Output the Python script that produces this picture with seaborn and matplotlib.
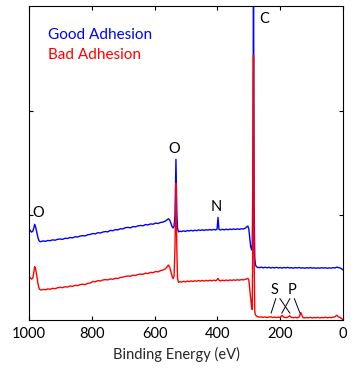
"""XPS survey spectra: good vs bad adhesion surfaces."""

import matplotlib

matplotlib.use("Agg")
import matplotlib.pyplot as plt
import pandas as pd
import seaborn as sns

# binding energy grid (eV), shared by both spectra
ENERGY = [
    1000, 996, 992, 988, 985, 982, 979, 975, 971, 967, 963, 955, 948, 940, 932,
    925, 917, 909, 901, 893, 885, 877, 869, 861, 853, 845, 837, 829, 821, 813,
    805, 797, 789, 781, 773, 765, 757, 749, 741, 733, 725, 717, 709, 701, 693,
    685, 677, 669, 661, 653, 645, 637, 629, 621, 613, 605, 597, 589, 581, 573,
    566, 561, 556, 552, 548, 544, 541, 538, 535, 533, 532, 531, 529, 527, 524,
    520, 514, 508, 502, 496, 490, 484, 478, 472, 466, 460, 454, 448, 442, 436,
    430, 424, 418, 412, 406, 401, 398, 395, 390, 384, 378, 372, 366, 360, 354,
    348, 342, 336, 330, 324, 318, 312, 307, 303, 300, 297, 294, 291, 289, 287,
    286, 285, 284, 283, 281, 279, 276, 272, 266, 260, 254, 248, 242, 236, 230,
    224, 218, 212, 206, 200, 194, 188, 182, 176, 170, 164, 158, 152, 146, 140,
    134, 128, 122, 116, 110, 104, 98, 92, 86, 80, 74, 68, 62, 56, 50,
    44, 38, 32, 26, 20, 14, 8, 4, 0,
]

GOOD = [
    0.870, 0.855, 0.840, 0.848, 0.875, 0.914, 0.890, 0.835, 0.780, 0.752, 0.748, 0.756, 0.751, 0.760, 0.758,
    0.766, 0.762, 0.771, 0.774, 0.770, 0.781, 0.779, 0.788, 0.785, 0.796, 0.793, 0.802, 0.806, 0.803, 0.815,
    0.818, 0.826, 0.823, 0.834, 0.831, 0.840, 0.845, 0.842, 0.856, 0.853, 0.864, 0.861, 0.872, 0.870, 0.882,
    0.885, 0.880, 0.893, 0.890, 0.899, 0.903, 0.900, 0.912, 0.908, 0.918, 0.915, 0.926, 0.922, 0.932, 0.936,
    0.945, 0.955, 0.967, 0.955, 0.925, 0.890, 0.880, 0.895, 1.000, 1.400, 1.535, 1.350, 1.000, 0.880, 0.842,
    0.848, 0.845, 0.852, 0.846, 0.855, 0.850, 0.857, 0.851, 0.858, 0.853, 0.861, 0.856, 0.862, 0.855, 0.863,
    0.858, 0.865, 0.859, 0.866, 0.860, 0.868, 0.980, 0.866, 0.860, 0.867, 0.861, 0.868, 0.862, 0.869, 0.864,
    0.870, 0.865, 0.871, 0.866, 0.872, 0.869, 0.876, 0.888, 0.898, 0.870, 0.780, 0.700, 0.670, 0.720, 1.300,
    2.400, 3.400, 2.200, 1.100, 0.600, 0.530, 0.510, 0.503, 0.500, 0.505, 0.498, 0.504, 0.499, 0.503, 0.497,
    0.502, 0.498, 0.503, 0.497, 0.501, 0.496, 0.502, 0.498, 0.503, 0.497, 0.500, 0.495, 0.501, 0.497, 0.502,
    0.496, 0.499, 0.494, 0.500, 0.496, 0.501, 0.495, 0.499, 0.494, 0.498, 0.495, 0.500, 0.496, 0.499, 0.494,
    0.498, 0.495, 0.500, 0.497, 0.505, 0.500, 0.496, 0.488, 0.478,
]

BAD = [
    0.420, 0.405, 0.390, 0.400, 0.450, 0.510, 0.490, 0.420, 0.340, 0.295, 0.287, 0.292, 0.289, 0.297, 0.294,
    0.302, 0.299, 0.308, 0.312, 0.309, 0.318, 0.315, 0.325, 0.322, 0.331, 0.328, 0.339, 0.342, 0.338, 0.350,
    0.353, 0.368, 0.365, 0.376, 0.373, 0.382, 0.386, 0.383, 0.392, 0.389, 0.399, 0.396, 0.406, 0.410, 0.416,
    0.420, 0.418, 0.428, 0.425, 0.435, 0.439, 0.436, 0.447, 0.444, 0.455, 0.452, 0.463, 0.460, 0.472, 0.478,
    0.488, 0.505, 0.525, 0.505, 0.460, 0.415, 0.395, 0.420, 0.700, 1.100, 1.306, 1.050, 0.650, 0.400, 0.360,
    0.366, 0.362, 0.370, 0.364, 0.372, 0.367, 0.374, 0.368, 0.375, 0.370, 0.377, 0.372, 0.378, 0.371, 0.379,
    0.373, 0.380, 0.374, 0.381, 0.375, 0.383, 0.398, 0.380, 0.374, 0.381, 0.375, 0.382, 0.376, 0.383, 0.378,
    0.384, 0.379, 0.385, 0.380, 0.386, 0.383, 0.388, 0.392, 0.398, 0.385, 0.300, 0.220, 0.120, 0.100, 0.900,
    1.900, 2.530, 1.500, 0.600, 0.080, 0.050, 0.040, 0.032, 0.027, 0.030, 0.025, 0.029, 0.024, 0.028, 0.030,
    0.024, 0.028, 0.023, 0.027, 0.024, 0.045, 0.027, 0.022, 0.026, 0.040, 0.025, 0.021, 0.026, 0.020, 0.027,
    0.070, 0.024, 0.020, 0.024, 0.021, 0.025, 0.020, 0.024, 0.021, 0.025, 0.020, 0.024, 0.022, 0.026, 0.021,
    0.025, 0.022, 0.027, 0.030, 0.045, 0.030, 0.022, 0.012, 0.004,
]

SERIES_NAMES = ["Good Adhesion", "Bad Adhesion"]
SERIES_COLORS = ["#0000ff", "#ff0000"]

# peak labels: (text, energy, intensity)
PEAK_LABELS = [("C", 250, 2.88), ("O", 538, 1.63), ("O", 971, 1.02), ("N", 404, 1.08),
               ("S", 217, 0.29), ("P", 163, 0.29)]
# leader lines under S and P: (E start, y start, E end, y end)
LEADERS = [(214, 0.205, 229, 0.065), (201, 0.205, 169, 0.065),
           (169, 0.205, 195, 0.065), (155, 0.205, 137, 0.065)]

X_TICKS = [1000, 800, 600, 400, 200, 0]


def main() -> None:
    sns.set_theme(style="ticks")
    plt.rcParams["font.family"] = ["Lato", "DejaVu Sans"]

    df = pd.concat(
        [
            pd.DataFrame({"energy": ENERGY, "intensity": GOOD, "sample": SERIES_NAMES[0]}),
            pd.DataFrame({"energy": ENERGY, "intensity": BAD, "sample": SERIES_NAMES[1]}),
        ],
        ignore_index=True,
    )

    fig = plt.figure(figsize=(3.56, 3.72), dpi=100)
    ax = fig.add_axes([29 / 356, 52 / 372, 314 / 356, 314 / 372])
    sns.lineplot(
        data=df,
        x="energy",
        y="intensity",
        hue="sample",
        hue_order=SERIES_NAMES,
        palette=SERIES_COLORS,
        estimator=None,
        sort=False,
        linewidth=1.0,
        legend=False,
        ax=ax,
    )

    ax.set_xlim(1000, 0)
    ax.set_ylim(0, 3)
    ax.set_xticks(X_TICKS)
    ax.set_yticks([1, 2])
    ax.set_yticklabels([])
    ax.tick_params(direction="in", top=True, right=True, length=3, width=0.8,
                   labelsize=10.5, pad=5, colors="black")
    for spine in ax.spines.values():
        spine.set_linewidth(0.8)
        spine.set_color("black")

    ax.set_ylabel("")
    ax.set_xlabel("Binding Energy (eV)", fontsize=10.5, labelpad=2)
    ax.xaxis.set_label_coords(0.471, -0.085)

    for text, e, y in PEAK_LABELS:
        ax.text(e, y, text, ha="center", va="center", fontsize=10.5, color="black")
    for e0, y0, e1, y1 in LEADERS:
        ax.plot([e0, e1], [y0, y1], color="black", lw=0.7)

    ax.text(940, 2.68, SERIES_NAMES[0], color=SERIES_COLORS[0], fontsize=11, va="baseline")
    ax.text(940, 2.49, SERIES_NAMES[1], color=SERIES_COLORS[1], fontsize=11, va="baseline")

    fig.savefig("out.png", dpi=100)
    plt.close(fig)


if __name__ == "__main__":
    main()
